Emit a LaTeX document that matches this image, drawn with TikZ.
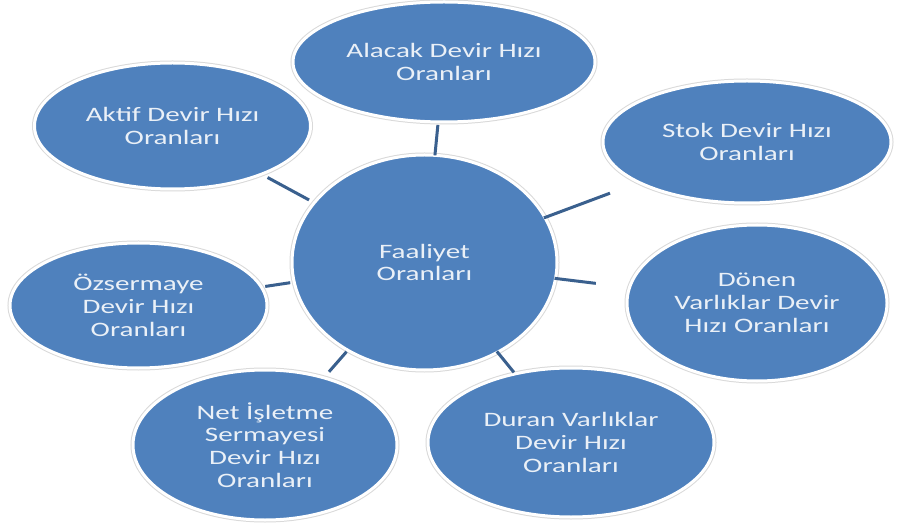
\documentclass[tikz,border=0pt]{standalone}
\usepackage{fontspec}
\setmainfont{Carlito}[FakeStretch=1.42]
\usetikzlibrary{shapes.geometric}
\definecolor{bubblefill}{RGB}{79,129,189}
\definecolor{bubbletext}{RGB}{234,240,247}
\definecolor{linkblue}{RGB}{58,96,142}
\tikzset{
  bubble/.style={ellipse, fill=bubblefill, draw=white, line width=3pt,
    preaction={draw=black!15, line width=5pt},
    inner sep=0pt, outer sep=0pt, align=center, text=bubbletext,
    font=\fontsize{20.5}{22.8}\selectfont},
  link/.style={draw=linkblue, line width=3pt}
}
\begin{document}
\begin{tikzpicture}[x=1pt, y=-1pt]
  \fill[white] (0,0) rectangle (899,526);
  \useasboundingbox (0,0) rectangle (899,526);

  % hub and surrounding ratio groups
  \node[bubble, minimum width=265pt, minimum height=215pt] (hub) at (424.5,262.5) {Faaliyet\\Oranları};
  \node[bubble, minimum width=302pt, minimum height=120pt] (alacak) at (444,62) {Alacak Devir Hızı\\Oranları};
  \node[bubble, minimum width=276pt, minimum height=126pt] (aktif) at (172.5,126) {Aktif Devir Hızı\\Oranları};
  \node[bubble, minimum width=288pt, minimum height=122pt] (stok) at (747,142) {Stok Devir Hızı\\Oranları};
  \node[bubble, minimum width=260pt, minimum height=156pt] (donen) at (757,303) {Dönen\\Varlıklar Devir\\Hızı Oranları};
  \node[bubble, minimum width=257pt, minimum height=125pt] (ozs) at (138.5,305.5) {Özsermaye\\Devir Hızı\\Oranları};
  \node[bubble, minimum width=264pt, minimum height=150pt] (net) at (265,445) {Net İşletme\\Sermayesi\\Devir Hızı\\Oranları};
  \node[bubble, minimum width=286pt, minimum height=149pt] (duran) at (571,442.5) {Duran Varlıklar\\Devir Hızı\\Oranları};

  % spokes
  \draw[link, shorten <=6pt, shorten >=7pt] (hub) -- (aktif);
  \draw[link, shorten <=0pt, shorten >=3pt] (hub) -- (alacak);
  \draw[link, shorten <=-1pt, shorten >=31pt] (hub) -- (stok);
  \draw[link, shorten <=-1pt, shorten >=34pt] (hub) -- (donen);
  \draw[link, shorten <=-1pt, shorten >=2pt] (hub) -- (duran);
  \draw[link, shorten <=2pt, shorten >=8pt] (hub) -- (net);
  \draw[link, shorten <=4pt, shorten >=4pt] (hub) -- (ozs);
\end{tikzpicture}
\end{document}
